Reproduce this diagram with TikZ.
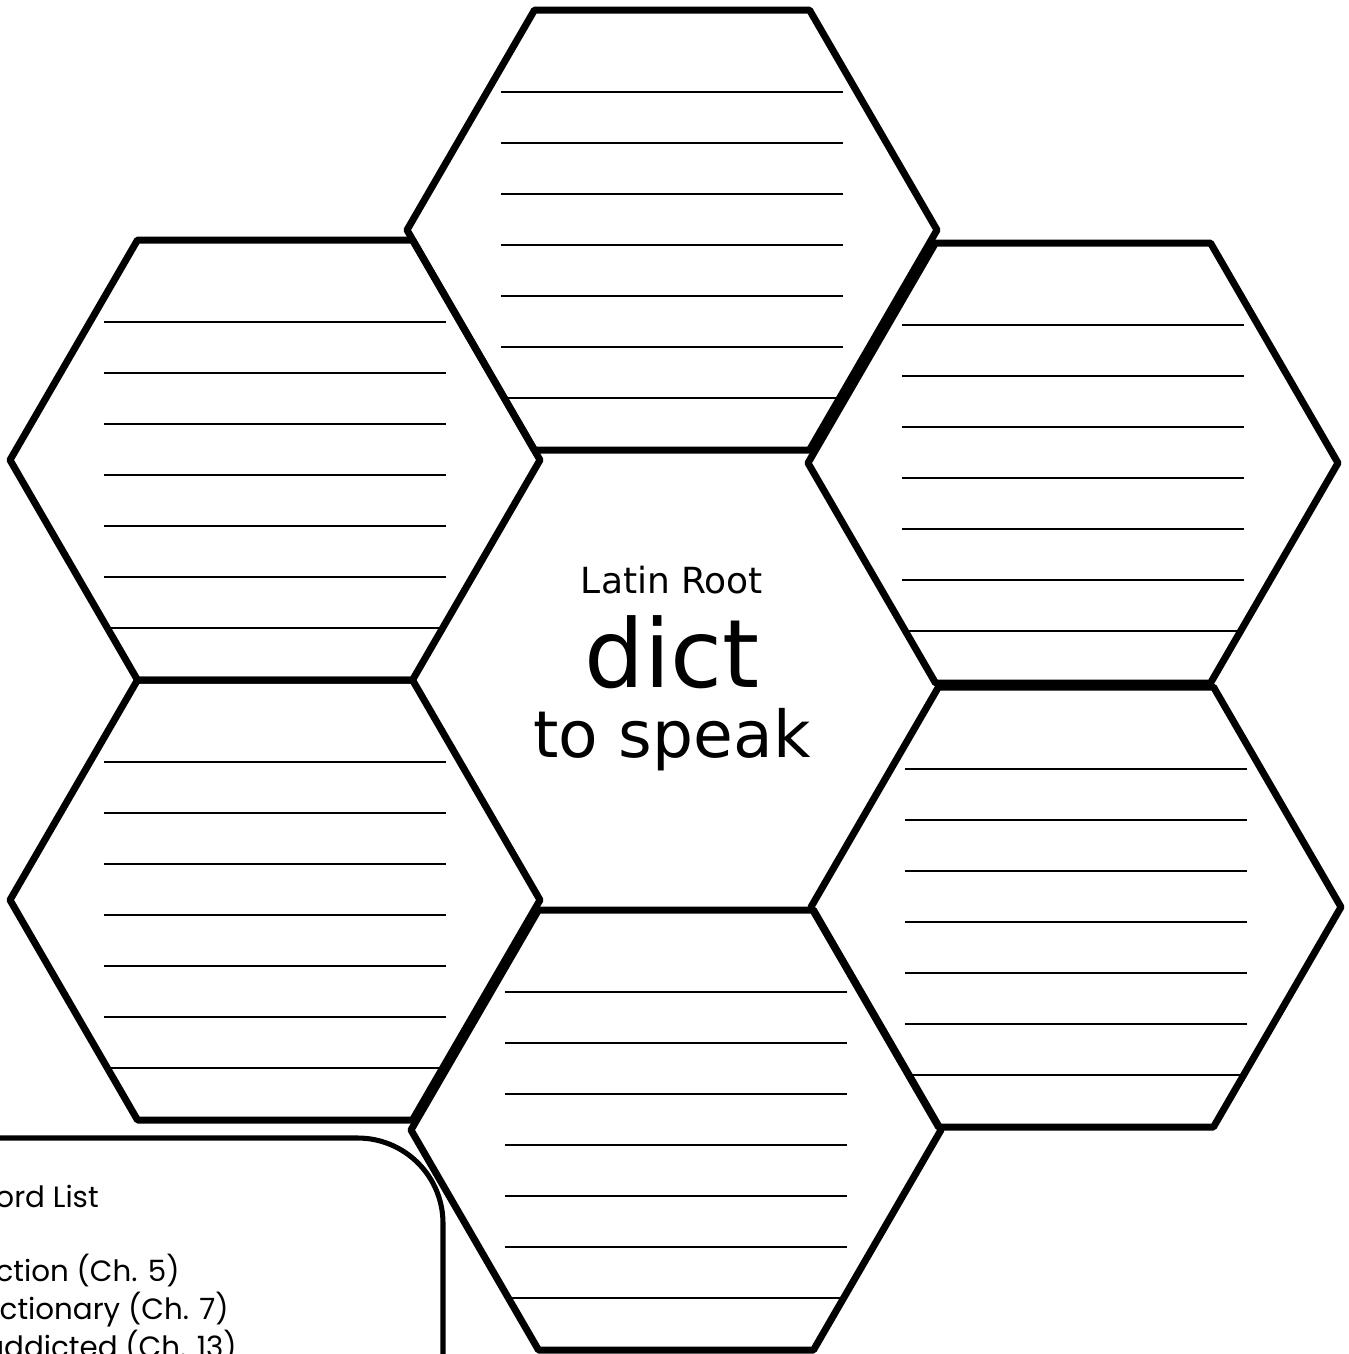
\documentclass[tikz,border=0pt]{standalone}
\usepackage{fontspec}
\setmainfont{DejaVu Sans}
\newfontfamily\listfont{Poppins}
\begin{document}
\begin{tikzpicture}[x=0.75pt,y=-0.75pt,
  hexline/.style={line width=5.25pt, line join=round},
  rule/.style={line width=1.1pt},
  listbox/.style={line width=3.8pt, rounded corners=64pt},
  listtext/.style={anchor=base east, inner sep=0pt, font=\listfont\fontsize{22}{26}\selectfont},
  cell/.pic={
    \begin{scope}
      \clip (-265,0) -- (-137.5,-220) -- (137.5,-220) -- (265,0) -- (137.5,220) -- (-137.5,220) -- cycle;
      \foreach \k in {0,...,6}
        \draw[rule] (-171,-138+51*\k) -- (171,-138+51*\k);
    \end{scope}
    \draw[hexline] (-265,0) -- (-137.5,-220) -- (137.5,-220) -- (265,0) -- (137.5,220) -- (-137.5,220) -- cycle;
  }]
\useasboundingbox (0,0) rectangle (1349,1354);
\fill[white] (0,0) rectangle (1349,1354);

% word list box
\coordinate (boxstart) at (-40,1138);
\coordinate (boxcorner) at (443,1138);
\coordinate (boxend) at (443,1420);
\draw[listbox] (boxstart) -- (boxcorner) -- (boxend);
\node[listtext] (wl) at (99,1207) {Word List};
\node[listtext] (w1) at (180,1281) {diction (Ch. 5)};
\node[listtext] (w2) at (229,1319) {dictionary (Ch. 7)};
\node[listtext] (w3) at (237,1357) {addicted (Ch. 13)};

% honeycomb cells
\pic (tl) at (275,460) {cell};
\pic (bl) at (275,900) {cell};
\pic (tp) at (672,230) {cell};
\pic (bt) at (676,1130) {cell};
\pic (tr) at (1073,463) {cell};
\pic (br) at (1076,907) {cell};

% centre text
\node[anchor=base, inner sep=0pt, font=\fontsize{27}{32}\selectfont] (latin) at (672,593) {Latin Root};
\node[anchor=base, inner sep=0pt, font=\fontsize{71}{80}\selectfont] (root) at (672,687) {dict};
\node[anchor=base, inner sep=0pt, font=\fontsize{48.5}{56}\selectfont] (mean) at (672,757) {to speak};
\end{tikzpicture}
\end{document}
